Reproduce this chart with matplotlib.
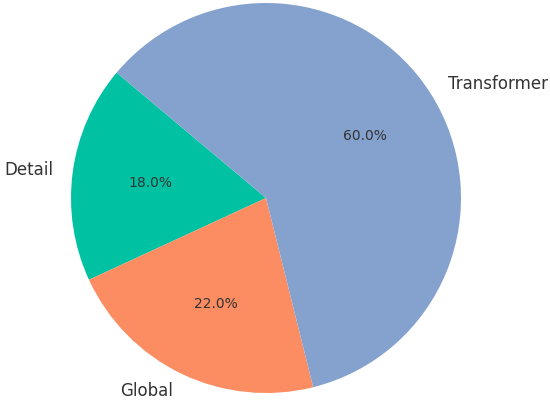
import matplotlib
matplotlib.use("Agg")
import matplotlib.pyplot as plt

labels = ["Detail", "Global", "Transformer"]
values = [18, 22, 60]
colors = ["#00C2A3", "#FC8D62", "#85A2CF"]

fig = plt.figure(figsize=(5.5, 4.05), dpi=100)
ax = fig.add_axes([0, 0, 1, 1])
wedges, texts, autotexts = ax.pie(
    values, labels=labels, colors=colors, autopct="%1.1f%%",
    startangle=140, counterclock=True,
    textprops={"color": "#333333", "fontsize": 12},
)
for t in autotexts:
    t.set_fontsize(10)
    t.set_color("#333333")
ax.set_aspect("equal")
ax.set_xlim(-266 / 195, (550 - 266) / 195)
ax.set_ylim(-(405 - 198) / 195, 198 / 195)
ax.axis("off")
fig.savefig("out.png", dpi=100)
